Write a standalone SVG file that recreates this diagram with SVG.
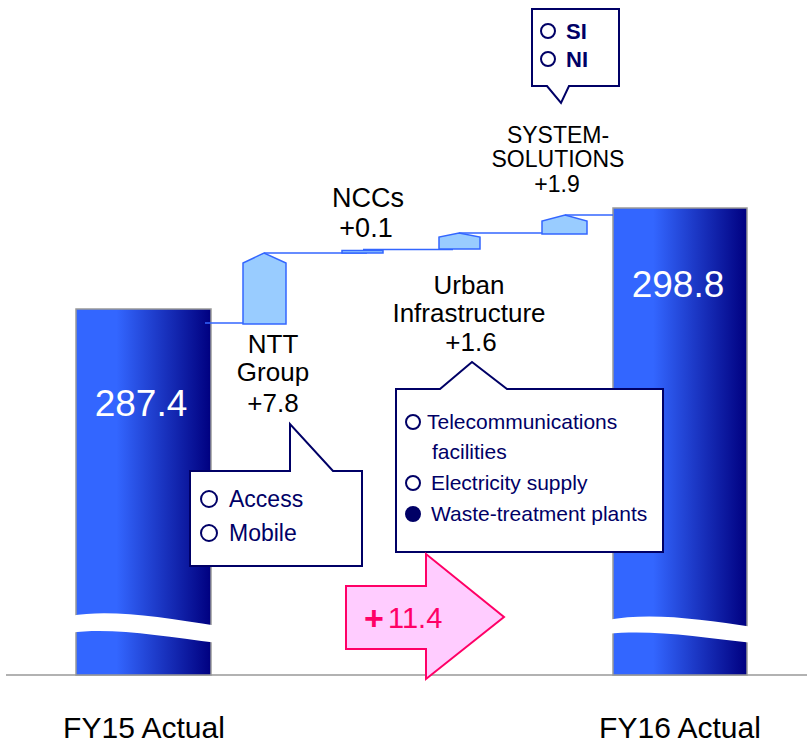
<svg xmlns="http://www.w3.org/2000/svg" width="807" height="743" viewBox="0 0 807 743">
<defs>
<linearGradient id="barGrad" x1="0" y1="0" x2="1" y2="0">
<stop offset="0" stop-color="#3366FF"/>
<stop offset="0.3" stop-color="#3366FF"/>
<stop offset="1" stop-color="#000080"/>
</linearGradient>
<style>
.lbl{font-family:"Liberation Sans",Arial,sans-serif;fill:#000;text-anchor:middle}
.val{font-family:"Liberation Sans",Arial,sans-serif;fill:#fff;text-anchor:middle;font-size:37px}
.bar{fill:url(#barGrad);stroke:#999;stroke-width:1.5}
.wave{fill:#fff;stroke:none}
.blk{fill:#99CCFF;stroke:#3366FF;stroke-width:1.5}
.step{fill:none;stroke:#3366FF;stroke-width:1.5}
.call{fill:#fff;stroke:#000066;stroke-width:2}
.ct{font-family:"Liberation Sans",Arial,sans-serif;fill:#000066}
.dot{fill:#fff;stroke:#000066;stroke-width:2}
.dotf{fill:#000066;stroke:#000066;stroke-width:2}
</style>
</defs>
<rect width="807" height="743" fill="#fff"/>
<line x1="6" y1="675" x2="807" y2="675" stroke="#999" stroke-width="1.5"/>

<g id="bar-fy15">
<rect class="bar" x="76" y="309" width="135" height="366"/>
<path class="wave" d="M70 616 C110 609,160 617,218 626 L218 643 C160 636,110 627,70 633 Z"/>
<text class="val" x="141" y="416">287.4</text>
</g>

<g id="bar-fy16">
<rect class="bar" x="613" y="208" width="134" height="467"/>
<path class="wave" d="M607 620 C650 612,700 619,753 627 L753 643 C700 637,650 629,607 634 Z"/>
<text class="val" x="678" y="297">298.8</text>
</g>

<g id="connectors">
<line class="step" x1="205" y1="323" x2="243" y2="323"/>
<line class="step" x1="264" y1="253" x2="367" y2="253"/>
<line class="step" x1="363" y1="249.5" x2="453" y2="249.5"/>
<line class="step" x1="459" y1="233" x2="543" y2="233"/>
<line class="step" x1="565" y1="215" x2="613" y2="215"/>
</g>

<g id="block-ntt">
<polygon class="blk" points="243,324 243,263 264,253 286,263 286,324"/>
<text class="lbl" font-size="26" x="273" y="353">NTT</text>
<text class="lbl" font-size="26" x="273" y="381">Group</text>
<text class="lbl" font-size="26" x="273" y="412">+7.8</text>
</g>

<g id="block-nccs">
<rect class="blk" x="342" y="250.5" width="41" height="2.5"/>
<text class="lbl" font-size="27" x="368" y="207">NCCs</text>
<text class="lbl" font-size="27" x="366" y="237">+0.1</text>
</g>

<g id="block-urban">
<polygon class="blk" points="439,249 439,237 459,233 480,237 480,249"/>
<text class="lbl" font-size="26" x="469" y="294">Urban</text>
<text class="lbl" font-size="26" x="469" y="322">Infrastructure</text>
<text class="lbl" font-size="26" x="471" y="351">+1.6</text>
</g>

<g id="block-system">
<polygon class="blk" points="542,234 542,221 565,215 587,221 587,234"/>
<text class="lbl" font-size="23" x="558" y="143">SYSTEM-</text>
<text class="lbl" font-size="23" x="558" y="167">SOLUTIONS</text>
<text class="lbl" font-size="23" x="557" y="192">+1.9</text>
</g>

<g id="callout-ntt">
<path class="call" d="M190 471 L290 471 L290 424 L333 471 L362 471 L362 566 L190 566 Z"/>
<circle class="dot" cx="209" cy="499" r="8"/>
<text class="ct" font-size="23" x="229" y="507">Access</text>
<circle class="dot" cx="209" cy="533" r="8"/>
<text class="ct" font-size="23" x="229" y="541">Mobile</text>
</g>

<g id="callout-urban">
<path class="call" d="M396 389 L440 389 L472 362 L507 389 L663 389 L663 552 L396 552 Z"/>
<circle class="dot" cx="413" cy="422" r="7"/>
<text class="ct" font-size="21" x="427" y="429">Telecommunications</text>
<text class="ct" font-size="21" x="432" y="459">facilities</text>
<circle class="dot" cx="413" cy="483" r="7"/>
<text class="ct" font-size="21" x="431" y="490">Electricity supply</text>
<circle class="dotf" cx="413" cy="514" r="7"/>
<text class="ct" font-size="21" x="431" y="521">Waste-treatment plants</text>
</g>

<g id="callout-system">
<path class="call" d="M532 9 L619 9 L619 86 L569 86 L561 103 L547 86 L532 86 Z"/>
<circle class="dot" cx="548" cy="31" r="7"/>
<text class="ct" font-size="22" font-weight="bold" x="566" y="39">SI</text>
<circle class="dot" cx="548" cy="59" r="7"/>
<text class="ct" font-size="22" font-weight="bold" x="566" y="67">NI</text>
</g>

<g id="arrow-total">
<path d="M346 586 L426 586 L426 554 L504 617 L426 679 L426 649 L346 649 Z" fill="#FFCCFF" stroke="#FF0066" stroke-width="2"/>
<text font-family="Liberation Sans,Arial,sans-serif" font-size="34" font-weight="bold" fill="#FF0066" x="364" y="630">+</text>
<text font-family="Liberation Sans,Arial,sans-serif" font-size="29" fill="#FF0066" x="388" y="628">11.4</text>
</g>

<g id="axis-labels">
<text class="lbl" font-size="30" x="144" y="738">FY15 Actual</text>
<text class="lbl" font-size="30" x="680" y="738">FY16 Actual</text>
</g>
</svg>
